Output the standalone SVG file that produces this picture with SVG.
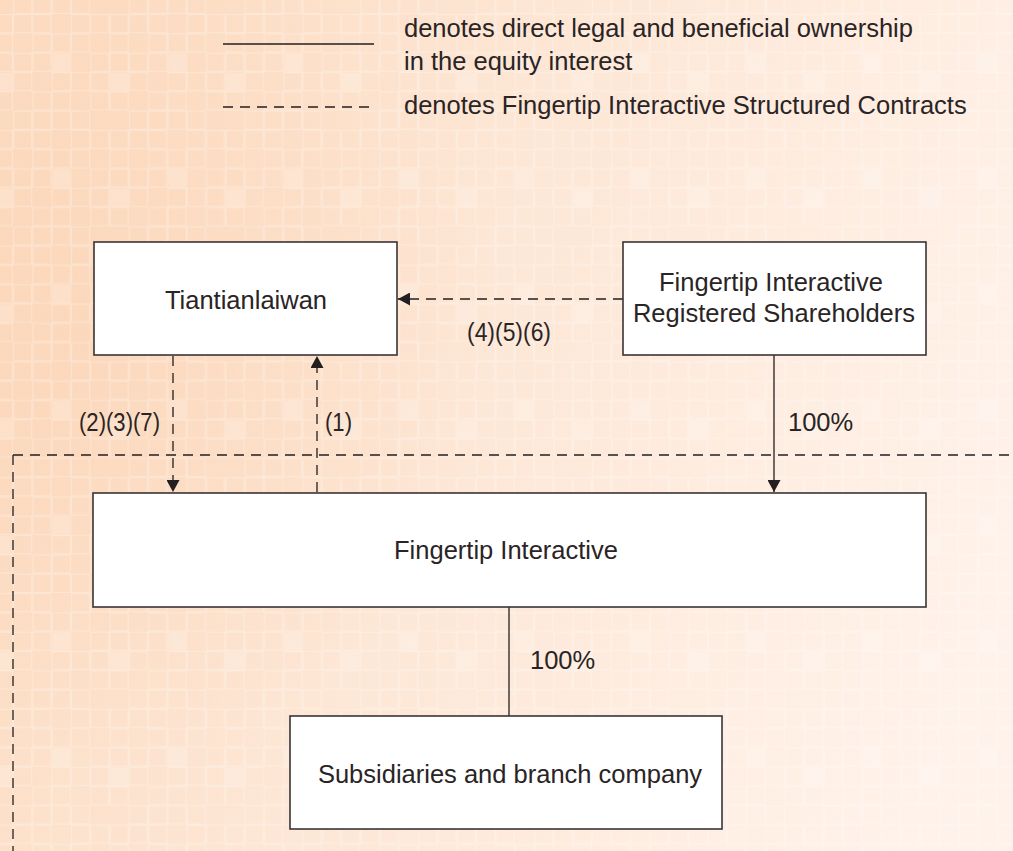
<svg xmlns="http://www.w3.org/2000/svg" width="1013" height="851" viewBox="0 0 1013 851">
  <style>
    .box { fill: #ffffff; stroke: #3a3435; stroke-width: 1.6; }
    .txt { font-family: "Liberation Sans", Arial, sans-serif; font-size: 25.5px; fill: #2a2425; }
    .solid { fill: none; stroke: #231f20; stroke-width: 1.3; }
    .dash { fill: none; stroke: #231f20; stroke-width: 1.3; stroke-dasharray: 10 7; }
    .cell { fill: none; stroke: #ffffff; stroke-opacity: 0.28; stroke-width: 1.1; }
    .lite { fill: #ffffff; fill-opacity: 0.2; }
  </style>
  <defs>
    <linearGradient id="bg" x1="0" y1="0.35" x2="1" y2="0.65">
      <stop offset="0" stop-color="#fcdcc2"/>
      <stop offset="0.45" stop-color="#fde7d6"/>
      <stop offset="1" stop-color="#fff2ea"/>
    </linearGradient>
    <radialGradient id="glow" cx="80" cy="340" r="420" gradientUnits="userSpaceOnUse">
      <stop offset="0" stop-color="#fbd2b2" stop-opacity="0.5"/>
      <stop offset="1" stop-color="#fbd2b2" stop-opacity="0"/>
    </radialGradient>
    <pattern id="grid" x="13" y="14" width="115.8" height="115.8" patternUnits="userSpaceOnUse">
      <rect class="cell" x="0.6" y="0.6" width="18.1" height="18.1"/>
      <rect class="cell" x="19.9" y="0.6" width="18.1" height="18.1"/>
      <rect class="cell" x="58.5" y="0.6" width="18.1" height="18.1"/>
      <rect class="cell" x="77.8" y="0.6" width="18.1" height="18.1"/>
      <rect class="cell" x="97.1" y="0.6" width="18.1" height="18.1"/>
      <rect class="cell" x="19.9" y="19.9" width="18.1" height="18.1"/>
      <rect class="cell" x="39.2" y="19.9" width="18.1" height="18.1"/>
      <rect class="cell" x="58.5" y="19.9" width="18.1" height="18.1"/>
      <rect class="cell" x="97.1" y="19.9" width="18.1" height="18.1"/>
      <rect class="cell" x="0.6" y="39.2" width="18.1" height="18.1"/>
      <rect class="cell" x="19.9" y="39.2" width="18.1" height="18.1"/>
      <rect class="cell" x="77.8" y="39.2" width="18.1" height="18.1"/>
      <rect class="cell" x="97.1" y="39.2" width="18.1" height="18.1"/>
      <rect class="cell" x="0.6" y="58.5" width="18.1" height="18.1"/>
      <rect class="cell" x="39.2" y="58.5" width="18.1" height="18.1"/>
      <rect class="cell" x="58.5" y="58.5" width="18.1" height="18.1"/>
      <rect class="cell" x="77.8" y="58.5" width="18.1" height="18.1"/>
      <rect class="cell" x="19.9" y="77.8" width="18.1" height="18.1"/>
      <rect class="cell" x="39.2" y="77.8" width="18.1" height="18.1"/>
      <rect class="cell" x="77.8" y="77.8" width="18.1" height="18.1"/>
      <rect class="cell" x="97.1" y="77.8" width="18.1" height="18.1"/>
      <rect class="cell" x="0.6" y="97.1" width="18.1" height="18.1"/>
      <rect class="cell" x="19.9" y="97.1" width="18.1" height="18.1"/>
      <rect class="cell" x="39.2" y="97.1" width="18.1" height="18.1"/>
      <rect class="cell" x="58.5" y="97.1" width="18.1" height="18.1"/>
      <rect class="lite" x="39.2" y="39.2" width="19.3" height="19.3"/>
      <rect class="lite" x="96.5" y="58.5" width="19.3" height="19.3"/>
    </pattern>
    <marker id="arrow" viewBox="0 0 12 13" refX="12" refY="6.5" markerWidth="12" markerHeight="13" markerUnits="userSpaceOnUse" orient="auto">
      <path d="M0,0 L12,6.5 L0,13 z" fill="#231f20"/>
    </marker>
  </defs>

  <g id="background">
    <rect x="0" y="0" width="1013" height="851" fill="url(#bg)"/>
    <rect x="0" y="0" width="1013" height="851" fill="url(#glow)"/>
    <rect x="0" y="0" width="1013" height="851" fill="url(#grid)"/>
  </g>

  <g id="legend">
    <line class="solid" x1="223" y1="44" x2="374" y2="44"/>
    <line class="dash" x1="223" y1="107" x2="374" y2="107"/>
    <text class="txt" x="404" y="37">denotes direct legal and beneficial ownership</text>
    <text class="txt" x="404" y="70">in the equity interest</text>
    <text class="txt" x="404" y="114">denotes Fingertip Interactive Structured Contracts</text>
  </g>

  <g id="connectors">
    <line class="dash" x1="623" y1="299" x2="398" y2="299" marker-end="url(#arrow)"/>
    <line class="dash" x1="173" y1="356" x2="173" y2="492" marker-end="url(#arrow)"/>
    <line class="dash" x1="317" y1="492" x2="317" y2="356" marker-end="url(#arrow)"/>
    <line class="solid" x1="774" y1="355" x2="774" y2="492" marker-end="url(#arrow)"/>
    <line class="solid" x1="509" y1="607" x2="509" y2="716"/>
    <line class="dash" x1="13" y1="455" x2="1013" y2="455"/>
    <line class="dash" x1="13" y1="455" x2="13" y2="851"/>
    <text class="txt" x="467" y="341" textLength="84" lengthAdjust="spacingAndGlyphs">(4)(5)(6)</text>
    <text class="txt" x="79" y="431" textLength="81" lengthAdjust="spacingAndGlyphs">(2)(3)(7)</text>
    <text class="txt" x="325" y="431" textLength="27" lengthAdjust="spacingAndGlyphs">(1)</text>
    <text class="txt" x="788" y="431">100%</text>
    <text class="txt" x="530" y="669">100%</text>
  </g>

  <g id="node-tiantianlaiwan">
    <rect class="box" x="94" y="242" width="303" height="113"/>
    <text class="txt" x="246" y="309" text-anchor="middle">Tiantianlaiwan</text>
  </g>

  <g id="node-shareholders">
    <rect class="box" x="623" y="242" width="303" height="113"/>
    <text class="txt" x="771" y="291" text-anchor="middle">Fingertip Interactive</text>
    <text class="txt" x="774" y="322" text-anchor="middle">Registered Shareholders</text>
  </g>

  <g id="node-fingertip">
    <rect class="box" x="93" y="493" width="833" height="114"/>
    <text class="txt" x="506" y="559" text-anchor="middle">Fingertip Interactive</text>
  </g>

  <g id="node-subsidiaries">
    <rect class="box" x="290" y="716" width="432" height="113"/>
    <text class="txt" x="510" y="783" text-anchor="middle">Subsidiaries and branch company</text>
  </g>
</svg>
